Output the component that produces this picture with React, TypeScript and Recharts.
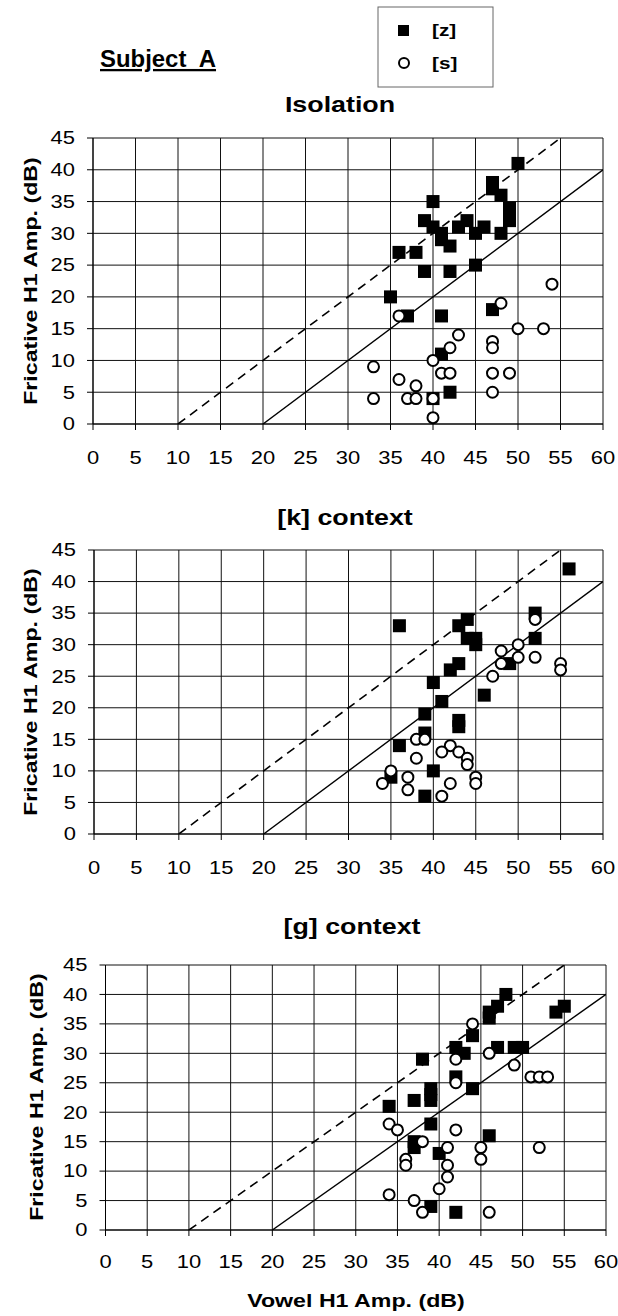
import { ScatterChart, Scatter, XAxis, YAxis, CartesianGrid } from "recharts";

const xTicks = [0, 5, 10, 15, 20, 25, 30, 35, 40, 45, 50, 55, 60];
const yTicks = [0, 5, 10, 15, 20, 25, 30, 35, 40, 45];

// [vowel H1, fricative H1] pairs
const isolationZ: [number, number][] = [
  [50, 41], [47, 38], [47, 37], [48, 36], [49, 34], [49, 33], [49, 32], [48, 30],
  [40, 35], [39, 32], [40, 31], [41, 30], [41, 29], [42, 28], [36, 27], [38, 27],
  [43, 31], [44, 32], [45, 30], [46, 31], [39, 24], [42, 24], [45, 25], [35, 20],
  [37, 17], [41, 17], [47, 18], [41, 11], [42, 5], [40, 4],
];
const isolationS: [number, number][] = [
  [54, 22], [48, 19], [36, 17], [50, 15], [53, 15], [43, 14], [47, 13], [47, 12],
  [42, 12], [40, 10], [33, 9], [41, 8], [42, 8], [47, 8], [49, 8], [36, 7], [38, 6],
  [33, 4], [37, 4], [38, 4], [40, 4], [40, 1], [47, 5],
];

const kContextZ: [number, number][] = [
  [56, 42], [36, 33], [52, 35], [52, 31], [43, 33], [44, 34], [44, 31], [45, 31],
  [45, 30], [43, 27], [42, 26], [40, 24], [41, 21], [46, 22], [39, 19], [43, 18],
  [43, 17], [39, 16], [36, 14], [35, 9], [40, 10], [39, 6], [49, 27],
];
const kContextS: [number, number][] = [
  [52, 34], [50, 30], [48, 29], [50, 28], [52, 28], [48, 27], [55, 27], [55, 26],
  [47, 25], [38, 15], [39, 15], [42, 14], [41, 13], [43, 13], [44, 12], [44, 11],
  [38, 12], [35, 10], [37, 9], [34, 8], [37, 7], [42, 8], [45, 9], [45, 8], [41, 6],
];

const gContextZ: [number, number][] = [
  [48, 40], [47, 38], [46, 37], [46, 36], [55, 38], [54, 37], [44, 33], [42, 31],
  [43, 30], [47, 31], [49, 31], [50, 31], [38, 29], [42, 26], [44, 24], [39, 24],
  [39, 23], [39, 22], [37, 22], [34, 21], [39, 18], [46, 16], [37, 15], [37, 14],
  [40, 13], [39, 4], [42, 3],
];
const gContextS: [number, number][] = [
  [44, 35], [42, 29], [46, 30], [49, 28], [51, 26], [52, 26], [53, 26], [42, 25],
  [34, 18], [35, 17], [42, 17], [38, 15], [41, 14], [45, 14], [45, 12], [52, 14],
  [36, 12], [36, 11], [41, 11], [41, 9], [40, 7], [34, 6], [37, 5], [38, 3], [46, 3],
];

// reference lines: y = x - 10 (dashed), y = x - 20 (solid)
const dashedGuide: [number, number][] = [[10, 0], [55, 45]];
const solidGuide: [number, number][] = [[20, 0], [60, 40]];

const toPoints = (pairs: [number, number][]) => pairs.map(([x, y]) => ({ x, y }));

const FONT = '"Liberation Sans", Arial, Helvetica, sans-serif';
const STRETCH = 1.22;

function XTick(props: any) {
  const { x, y, payload } = props;
  return (
    <text
      transform={`translate(${x},${y}) scale(${STRETCH},1)`}
      textAnchor="middle"
      dy="0.71em"
      fontSize={18}
      fontFamily={FONT}
      fill="#000"
    >
      {payload.value}
    </text>
  );
}

function YTick(props: any) {
  const { x, y, payload } = props;
  return (
    <text
      transform={`translate(${x},${y}) scale(${STRETCH},1)`}
      textAnchor="end"
      dy="0.35em"
      fontSize={18}
      fontFamily={FONT}
      fill="#000"
    >
      {payload.value}
    </text>
  );
}

const Square = (p: any) =>
  p.cx == null ? <g /> : <rect x={p.cx - 6.5} y={p.cy - 6.5} width={13} height={13} fill="#000" />;
const Ring = (p: any) =>
  p.cx == null ? <g /> : <circle cx={p.cx} cy={p.cy} r={5.5} fill="#fff" stroke="#000" strokeWidth={2} />;
const NoDot = () => <g />;

type PanelProps = {
  z: [number, number][];
  s: [number, number][];
  left: number;
  right: number;
  top: number;
  bottom: number;
  tickGap: number;
};

function Panel({ z, s, left, right, top, bottom, tickGap }: PanelProps) {
  const height = 10 + (bottom - top) + 45;
  return (
    <div style={{ position: "absolute", left: 0, top: top - 10 }}>
      <ScatterChart width={618} height={height} margin={{ top: 10, right: 618 - right, bottom: 0, left: 0 }}>
        <CartesianGrid stroke="#111" strokeWidth={1} />
        <XAxis
          type="number"
          dataKey="x"
          domain={[0, 60]}
          ticks={xTicks}
          interval={0}
          height={45}
          tickSize={6}
          tickMargin={tickGap}
          tick={<XTick />}
          axisLine={{ stroke: "#000" }}
          tickLine={{ stroke: "#000" }}
          allowDataOverflow
        />
        <YAxis
          type="number"
          dataKey="y"
          domain={[0, 45]}
          ticks={yTicks}
          interval={0}
          width={left}
          tickSize={6}
          tickMargin={12}
          tick={<YTick />}
          axisLine={{ stroke: "#000" }}
          tickLine={{ stroke: "#000" }}
          allowDataOverflow
        />
        <Scatter
          data={toPoints(dashedGuide)}
          line={{ stroke: "#000", strokeWidth: 1.6, strokeDasharray: "9 6" }}
          shape={NoDot}
          isAnimationActive={false}
        />
        <Scatter
          data={toPoints(solidGuide)}
          line={{ stroke: "#000", strokeWidth: 1.4 }}
          shape={NoDot}
          isAnimationActive={false}
        />
        <Scatter data={toPoints(z)} shape={Square} isAnimationActive={false} />
        <Scatter data={toPoints(s)} shape={Ring} isAnimationActive={false} />
      </ScatterChart>
    </div>
  );
}

function Stretched({ x, y, size, children, anchor = "middle", rotate = 0, stretch = STRETCH }: any) {
  return (
    <text
      transform={`translate(${x},${y}) rotate(${rotate}) scale(${stretch},1)`}
      textAnchor={anchor}
      fontSize={size}
      fontWeight="bold"
      fontFamily={FONT}
      fill="#000"
    >
      {children}
    </text>
  );
}

export default function App() {
  return (
    <div style={{ position: "relative", width: 618, height: 1316, background: "#fff", overflow: "hidden" }}>
      <style>{"body{margin:0}"}</style>
      <Panel z={isolationZ} s={isolationS} left={93} right={603} top={138} bottom={424} tickGap={21} />
      <Panel z={kContextZ} s={kContextS} left={94} right={603} top={550} bottom={834} tickGap={21} />
      <Panel z={gContextZ} s={gContextS} left={105.5} right={606} top={964.5} bottom={1229.5} tickGap={19.5} />
      <svg width={618} height={1316} style={{ position: "absolute", left: 0, top: 0, pointerEvents: "none" }}>
        <text
          transform="translate(100,67) scale(1.04,1)"
          fontSize={23}
          fontWeight="bold"
          fontFamily={FONT}
          fill="#000"
          style={{ textDecoration: "underline" }}
        >
          {"Subject\u00a0 A"}
        </text>
        <Stretched x={340} y={112} size={22}>Isolation</Stretched>
        <Stretched x={345} y={525} size={22}>[k] context</Stretched>
        <Stretched x={352} y={934} size={22}>[g] context</Stretched>

        <rect x={378} y={7} width={115} height={80} fill="#fff" stroke="#666" strokeWidth={1} />
        <rect x={398} y={25} width={11} height={11} fill="#000" />
        <Stretched x={432} y={36} size={17} anchor="start">[z]</Stretched>
        <circle cx={404} cy={63} r={5} fill="#fff" stroke="#000" strokeWidth={2} />
        <Stretched x={432} y={69} size={17} anchor="start">[s]</Stretched>

        <Stretched x={37} y={281} size={19} rotate={-90}>Fricative H1 Amp. (dB)</Stretched>
        <Stretched x={37} y={692} size={19} rotate={-90}>Fricative H1 Amp. (dB)</Stretched>
        <Stretched x={43} y={1097} size={19} rotate={-90}>Fricative H1 Amp. (dB)</Stretched>
        <Stretched x={356} y={1307} size={19}>Vowel H1 Amp. (dB)</Stretched>
      </svg>
    </div>
  );
}
